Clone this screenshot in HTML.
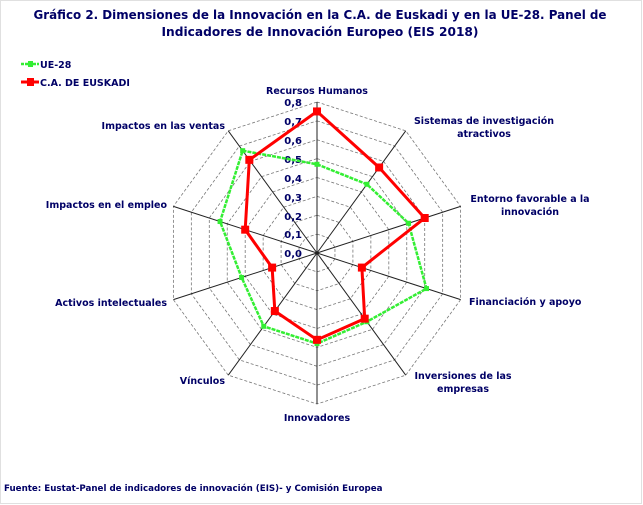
<!DOCTYPE html>
<html><head><meta charset="utf-8"><style>
body{margin:0;background:#fff}
svg{display:block}
text{font-family:"DejaVu Sans",Verdana,sans-serif;fill:#000066}
</style></head><body>
<svg id="s" width="643" height="505" viewBox="0 0 643 505" xmlns="http://www.w3.org/2000/svg">
<rect x="0.5" y="0.5" width="641" height="503" fill="#fff" stroke="#e0e0e0"/>
<text x="320" y="19" text-anchor="middle" font-size="12.5" font-weight="bold" textLength="573" lengthAdjust="spacingAndGlyphs">Gráfico 2. Dimensiones de la Innovación en la C.A. de Euskadi y en la UE-28. Panel de</text>
<text x="320" y="36" text-anchor="middle" font-size="12.5" font-weight="bold" textLength="317" lengthAdjust="spacingAndGlyphs">Indicadores de Innovación Europeo (EIS 2018)</text>
<line x1="21" y1="64" x2="39" y2="64" stroke="#33ee33" stroke-width="2.5" stroke-dasharray="3,1"/>
<rect x="28" y="61" width="5" height="6" fill="#33ee33"/>
<text x="40" y="68" font-size="9.5" font-weight="bold">UE-28</text>
<line x1="21" y1="82" x2="39" y2="82" stroke="#ff0000" stroke-width="3"/>
<rect x="27" y="78" width="7" height="8" fill="#ff0000"/>
<text x="40" y="86" font-size="9.5" font-weight="bold">C.A. DE EUSKADI</text>
<g id="grid"></g>
<g font-size="9.5" font-weight="bold">
<text x="317" y="94" text-anchor="middle">Recursos Humanos</text>
<text x="484" y="124" text-anchor="middle">Sistemas de investigación</text>
<text x="484" y="137" text-anchor="middle">atractivos</text>
<text x="530" y="202" text-anchor="middle">Entorno favorable a la</text>
<text x="530" y="215" text-anchor="middle">innovación</text>
<text x="469" y="305">Financiación y apoyo</text>
<text x="463" y="379" text-anchor="middle">Inversiones de las</text>
<text x="463" y="392" text-anchor="middle">empresas</text>
<text x="317" y="421" text-anchor="middle">Innovadores</text>
<text x="225" y="384" text-anchor="end">Vínculos</text>
<text x="167" y="306" text-anchor="end">Activos intelectuales</text>
<text x="167" y="208" text-anchor="end">Impactos en el empleo</text>
<text x="225" y="129" text-anchor="end">Impactos en las ventas</text>
<text x="4" y="491" font-size="8.7">Fuente: Eustat-Panel de indicadores de innovación (EIS)- y Comisión Europea</text>
</g>
<g id="ticks" font-size="10" font-weight="bold">
<text x="302" y="106" text-anchor="end">0,8</text>
<text x="302" y="125" text-anchor="end">0,7</text>
<text x="302" y="144" text-anchor="end">0,6</text>
<text x="302" y="163" text-anchor="end">0,5</text>
<text x="302" y="182" text-anchor="end">0,4</text>
<text x="302" y="201" text-anchor="end">0,3</text>
<text x="302" y="220" text-anchor="end">0,2</text>
<text x="302" y="238" text-anchor="end">0,1</text>
<text x="302" y="257" text-anchor="end">0,0</text>
</g>
<g id="series"></g>
</svg>
<script>
var cx=317,cy=253,S=151/0.8,NS="http://www.w3.org/2000/svg";
function pt(i,v){var a=i*Math.PI/5;return [cx+v*S*Math.sin(a),cy-v*S*Math.cos(a)];}
function el(t,at,p){var e=document.createElementNS(NS,t);for(var k in at)e.setAttribute(k,at[k]);p.appendChild(e);return e;}
var g=document.getElementById('grid');
for(var r=1;r<=8;r++){var ps=[];for(var i=0;i<10;i++)ps.push(pt(i,r/10).join(','));
el('polygon',{points:ps.join(' '),fill:'none',stroke:'#777','stroke-width':0.8,'stroke-dasharray':'3,2'},g);}
for(var i=0;i<10;i++){var p=pt(i,0.8);el('line',{x1:cx,y1:cy,x2:p[0],y2:p[1],stroke:'#222','stroke-width':1},g);}
var ue=[0.47,0.45,0.51,0.61,0.45,0.48,0.48,0.42,0.54,0.67];
var eu=[0.75,0.56,0.60,0.25,0.43,0.46,0.38,0.25,0.40,0.61];
var sg=document.getElementById('series');
function draw(d,c,w,m,dash){var ps=d.map(function(v,i){return pt(i,v).join(',')});
var at={points:ps.join(' '),fill:'none',stroke:c,'stroke-width':w,'stroke-linejoin':'miter'};if(dash)at['stroke-dasharray']=dash;
el('polygon',at,sg);
d.forEach(function(v,i){var p=pt(i,v);el('rect',{x:p[0]-m/2,y:p[1]-m/2,width:m,height:m,fill:c},sg);});}
draw(ue,'#33ee33',2.5,5,'4,1');
draw(eu,'#ff0000',3,8);
</script>
</body></html>
